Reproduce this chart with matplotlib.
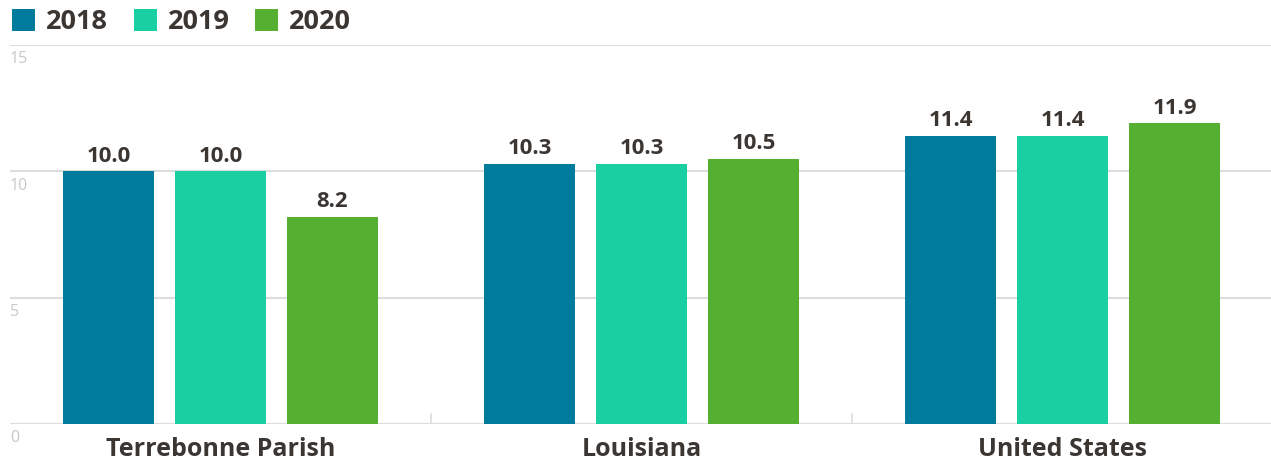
import matplotlib
matplotlib.use("Agg")
import matplotlib.pyplot as plt
import numpy as np

categories = ["Terrebonne Parish", "Louisiana", "United States"]
years = ["2018", "2019", "2020"]
values_2018 = [10.0, 10.3, 11.4]
values_2019 = [10.0, 10.3, 11.4]
values_2020 = [8.2, 10.5, 11.9]
yticks = [0, 5, 10, 15]

colors = ["#017b9b", "#1ad0a2", "#55af31"]
INK = "#3b3632"
GRID = "#dddddd"

plt.rcParams["font.family"] = ["Open Sans", "DejaVu Sans"]

W, H = 1271, 465
fig = plt.figure(figsize=(W / 100, H / 100), dpi=100)
ax = fig.add_axes([10 / W, (H - 424) / H, 1263 / W, 379 / H])

x = np.arange(len(categories)) + 0.5
offset = 0.266
width = 0.214
series = [values_2018, values_2019, values_2020]
for i, (yr, vals) in enumerate(zip(years, series)):
    xs = x + (i - 1) * offset
    ax.bar(xs, vals, width, color=colors[i], label=yr, zorder=3)
    for xi, v in zip(xs, vals):
        ax.text(xi, v + 0.18, f"{v:.1f}", ha="center", va="bottom",
                fontsize=16, fontweight="bold", color=INK)

ax.set_xlim(0, 3)
ax.set_ylim(0, 15)
for s in ax.spines.values():
    s.set_visible(False)
for t in yticks:
    ax.axhline(t, color=GRID, lw=1.5, zorder=1)
    ax.text(0, t - 0.25, str(t), transform=ax.get_yaxis_transform(),
            ha="left", va="top", fontsize=11.5, color="#c8c8c8")
# group separators
for b in [1, 2]:
    ax.plot([b, b], [0, 0.4], color=GRID, lw=1.2, zorder=1)
ax.set_xticks([])
ax.set_yticks([])
for xi, c in zip(x, categories):
    ax.text(xi, -0.52, c, ha="center", va="top", fontsize=18,
            fontweight="bold", color=INK)

leg = fig.legend(loc="upper left", bbox_to_anchor=(4 / W, 1 - 1 / H), ncol=3,
                 frameon=False, fontsize=19.5, handlelength=0.85,
                 handleheight=0.85, handletextpad=0.4, columnspacing=0.95,
                 borderaxespad=0, borderpad=0.3)
for t in leg.get_texts():
    t.set_fontweight("bold")
    t.set_color(INK)

fig.savefig("out.png", dpi=100, facecolor="white")
